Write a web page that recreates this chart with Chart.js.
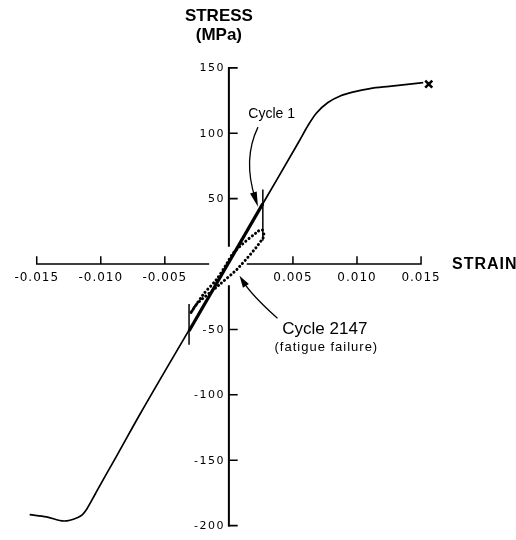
<!DOCTYPE html>
<html>
<head>
<meta charset="utf-8">
<title>Stress - strain</title>
<script src="https://cdn.jsdelivr.net/npm/chart.js@4.4.0/dist/chart.umd.min.js"></script>
<style>
  html, body { margin: 0; padding: 0; background: #fff; }
  #wrap { width: 516px; height: 540px; }
</style>
</head>
<body>
<div id="wrap"><canvas id="chart" width="516" height="540"></canvas></div>
<script>
// axis ticks
const strainTicks = [-0.015, -0.010, -0.005, 0.005, 0.010, 0.015];
const strainTickLabels = ['-0.015', '-0.010', '-0.005', '0.005', '0.010', '0.015'];
const stressTicks = [150, 100, 50, -50, -100, -150, -200];
const stressTickLabels = ['150', '100', '50', '-50', '-100', '-150', '-200'];

// monotonic curve, compression to tension fracture
const curveStrain = [-0.01555, -0.01424, -0.01286, -0.01184, -0.01145, -0.01110, -0.01075, -0.01030, -0.00950, -0.00869, -0.00692, -0.00300, 0.00000, 0.00300, 0.00545, 0.00621, 0.00684, 0.00773, 0.00873, 0.00975, 0.01101, 0.01252, 0.01517];
const curveStress = [-191.6, -193.3, -196.5, -194.0, -191.8, -187.5, -181.5, -173.5, -159.5, -145.5, -114.5, -48.6, 1.6, 52.0, 93.3, 106.5, 115.5, 123.5, 128.7, 131.7, 134.2, 135.9, 138.7];

// fracture point
const fractureStrain = [0.0156];
const fractureStress = [137.6];

// cycle 1 (elastic segment between strain limits)
const cycle1Strain = [-0.00311, 0.00265];
const cycle1Stress = [-51.2, 46.2];

// strain limit bars
const lowLimitStrain = [-0.00311, -0.00311];
const lowLimitStress = [-30.5, -61.8];
const highLimitStrain = [0.00265, 0.00265];
const highLimitStress = [57.1, 17.8];

// cycle 2147 hysteresis loop (fatigue failure)
const cycle2147Strain = [-0.00295, -0.00199, -0.00098, -0.00023, 0.00040, 0.00230, 0.00262, 0.00270, 0.00078, -0.00073, -0.00250, -0.00295];
const cycle2147Stress = [-37.0, -23.1, -12.0, -0.8, 9.1, 25.2, 26.0, 20.5, -2.5, -15.7, -30.5, -37.0];

const toPoints = (xs, ys) => xs.map((v, i) => ({ x: v, y: ys[i] }));

// annotation arrows, in data units: start, middle, tip
const arrows = [
    [[0.00227, 104.7], [0.00167, 77.2], [0.00227, 43.8]],
    [[0.00379, -41.5], [0.00205, -24.6], [0.00083, -9.0]]
];

function drawArrow(ctx, xs, ys, pts, headLen, headHalf) {
    const p = pts.map(q => ({ x: xs.getPixelForValue(q[0]), y: ys.getPixelForValue(q[1]) }));
    const cx = 2 * p[1].x - (p[0].x + p[2].x) / 2;
    const cy = 2 * p[1].y - (p[0].y + p[2].y) / 2;
    const ang = Math.atan2(p[2].y - cy, p[2].x - cx);
    ctx.beginPath();
    ctx.moveTo(p[0].x, p[0].y);
    ctx.quadraticCurveTo(cx, cy, p[2].x - Math.cos(ang) * headLen * 0.6, p[2].y - Math.sin(ang) * headLen * 0.6);
    ctx.stroke();
    const bx = p[2].x - Math.cos(ang) * headLen, by = p[2].y - Math.sin(ang) * headLen;
    ctx.beginPath();
    ctx.moveTo(p[2].x, p[2].y);
    ctx.lineTo(bx + Math.sin(ang) * headHalf, by - Math.cos(ang) * headHalf);
    ctx.lineTo(bx - Math.sin(ang) * headHalf, by + Math.cos(ang) * headHalf);
    ctx.closePath();
    ctx.fill();
}

const crossAxes = {
    id: 'crossAxes',
    beforeDatasetsDraw(chart) {
        const { ctx, scales: { x, y } } = chart;
        const x0 = x.getPixelForValue(0);
        const y0 = y.getPixelForValue(0);
        ctx.save();
        ctx.strokeStyle = '#000';
        ctx.fillStyle = '#000';
        ctx.lineCap = 'square';

        // strain axis, broken where the loops cross it
        ctx.lineWidth = 1.5;
        ctx.beginPath();
        ctx.moveTo(x.getPixelForValue(-0.015), y0);
        ctx.lineTo(x.getPixelForValue(-0.0016), y0);
        ctx.moveTo(x.getPixelForValue(0.00145), y0);
        ctx.lineTo(x.getPixelForValue(0.015), y0);
        strainTicks.forEach(t => {
            const px = x.getPixelForValue(t);
            ctx.moveTo(px, y0);
            ctx.lineTo(px, y0 - 7);
        });
        ctx.stroke();

        // stress axis
        ctx.lineWidth = 2;
        ctx.beginPath();
        ctx.moveTo(x0, y.getPixelForValue(150));
        ctx.lineTo(x0, y.getPixelForValue(14));
        ctx.moveTo(x0, y.getPixelForValue(-17));
        ctx.lineTo(x0, y.getPixelForValue(-200));
        ctx.stroke();
        ctx.lineWidth = 1.6;
        ctx.beginPath();
        stressTicks.forEach(t => {
            const py = y.getPixelForValue(t);
            ctx.moveTo(x0, py);
            ctx.lineTo(x0 + 8, py);
        });
        ctx.stroke();

        // tick labels
        ctx.font = '12px "DejaVu Sans"';
        ctx.letterSpacing = '1px';
        ctx.textAlign = 'center';
        ctx.textBaseline = 'alphabetic';
        strainTicks.forEach((t, i) => {
            ctx.fillText(strainTickLabels[i], x.getPixelForValue(t), y0 + 17);
        });
        ctx.font = '11px "DejaVu Sans"';
        ctx.letterSpacing = '1.5px';
        ctx.textAlign = 'right';
        ctx.textBaseline = 'middle';
        stressTicks.forEach((t, i) => {
            ctx.fillText(stressTickLabels[i], x0 - 4, y.getPixelForValue(t) + 0.5);
        });

        // axis titles
        ctx.letterSpacing = '0px';
        ctx.font = 'bold 17px "Liberation Sans"';
        ctx.textAlign = 'center';
        ctx.textBaseline = 'alphabetic';
        ctx.fillText('STRESS', x0 - 10, 21);
        ctx.fillText('(MPa)', x0 - 10, 40);
        ctx.textAlign = 'left';
        ctx.font = 'bold 16px "Liberation Sans"';
        ctx.letterSpacing = '1px';
        ctx.fillText('STRAIN', 452, y0 + 4.5);
        ctx.restore();
    },
    afterDatasetsDraw(chart) {
        const { ctx, scales: { x, y } } = chart;
        ctx.save();
        ctx.strokeStyle = '#000';
        ctx.fillStyle = '#000';
        ctx.lineWidth = 1.3;
        drawArrow(ctx, x, y, arrows[0], 15, 3.5);
        drawArrow(ctx, x, y, arrows[1], 12, 3.5);

        ctx.textAlign = 'left';
        ctx.textBaseline = 'alphabetic';
        ctx.font = '14px "Liberation Sans"';
        ctx.fillText('Cycle 1', x.getPixelForValue(0.00152), y.getPixelForValue(111.4));
        ctx.font = '17px "Liberation Sans"';
        ctx.fillText('Cycle 2147', x.getPixelForValue(0.00417), y.getPixelForValue(-53.6));
        ctx.font = '13px "Liberation Sans"';
        ctx.letterSpacing = '1px';
        ctx.fillText('(fatigue failure)', x.getPixelForValue(0.00356), y.getPixelForValue(-66.8));
        ctx.restore();
    }
};

const lineStyle = { showLine: true, pointRadius: 0, borderColor: '#000', backgroundColor: '#000', fill: false };

new Chart(document.getElementById('chart'), {
    type: 'scatter',
    data: {
        datasets: [
            { ...lineStyle, label: 'Monotonic', data: toPoints(curveStrain, curveStress), borderWidth: 1.7, cubicInterpolationMode: 'monotone' },
            { ...lineStyle, label: 'Cycle 1', data: toPoints(cycle1Strain, cycle1Stress), borderWidth: 3.2 },
            { ...lineStyle, label: 'Limit low', data: toPoints(lowLimitStrain, lowLimitStress), borderWidth: 1.5 },
            { ...lineStyle, label: 'Limit high', data: toPoints(highLimitStrain, highLimitStress), borderWidth: 1.5 },
            { ...lineStyle, label: 'Cycle 2147', data: toPoints(cycle2147Strain, cycle2147Stress), borderWidth: 3, borderDash: [0.1, 4], borderCapStyle: 'round', tension: 0.3 },
            { label: 'Fracture', data: toPoints(fractureStrain, fractureStress), showLine: false, pointStyle: 'crossRot', pointRadius: 5, borderWidth: 2.6, borderColor: '#000' }
        ]
    },
    options: {
        responsive: false,
        devicePixelRatio: 1,
        animation: false,
        layout: { padding: 0 },
        plugins: { legend: { display: false }, tooltip: { enabled: false } },
        scales: {
            x: { type: 'linear', display: false, min: -0.017273, max: 0.021818 },
            y: { type: 'linear', display: false, min: -205.2, max: 196.1 }
        }
    },
    plugins: [crossAxes]
});
</script>
</body>
</html>
